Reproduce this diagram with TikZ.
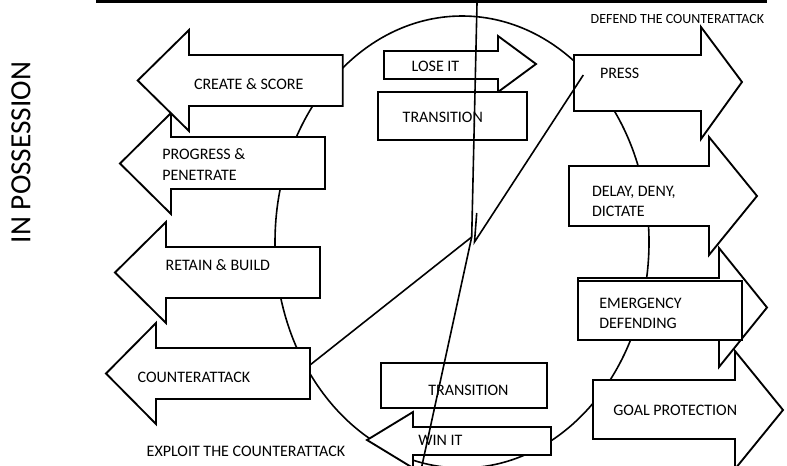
\documentclass[tikz,border=0pt]{standalone}
\usepackage{fontspec}
\setmainfont{Carlito}
\begin{document}
\begin{tikzpicture}[x=0.75pt,y=-0.75pt,
  shp/.style={draw=black, fill=white, line width=1.4pt, line join=miter, miter limit=10},
  ln/.style={draw=black, line width=1.2pt},
  lbl/.style={inner sep=0pt, outer sep=0pt, anchor=base west, font=\fontsize{12}{15.2}\selectfont, align=left},
  lbltwo/.style={lbl, anchor=north west}]
\useasboundingbox (0,0) rectangle (787,465);
\clip (0,0) rectangle (787,465);
% top rule
\coordinate (ruleL) at (96,1.65);
\coordinate (ruleR) at (767,1.65);
\draw[line width=2.5pt] (ruleL) -- (ruleR);
% big circle
\coordinate (cc) at (462,242);
\draw[ln] (cc) ellipse [x radius=140.25pt, y radius=169.5pt];
% left arrows (in possession)
\draw[shp] (310,348) -- (156,348) -- (156,323) -- (106,373.5) -- (156,424) -- (156,399) -- (310,399) -- cycle;
\draw[shp] (320,247) -- (166,247) -- (166,222) -- (115,272.5) -- (166,323) -- (166,298) -- (320,298) -- cycle;
\draw[shp] (325,137) -- (171,137) -- (171,113) -- (120,163.5) -- (171,214) -- (171,189) -- (325,189) -- cycle;
\draw[shp] (342.7,55) -- (189,55) -- (189,30) -- (137.7,80.5) -- (189,131) -- (189,106) -- (342.7,106) -- cycle;
% right arrows (defending)
\draw[shp] (593,380) -- (735,380) -- (735,351) -- (783,410) -- (735,469) -- (735,439) -- (593,439) -- cycle;
\draw[shp] (578,278) -- (719,278) -- (719,248) -- (767,307.5) -- (719,367) -- (719,337) -- (578,337) -- cycle;
\draw[shp] (578,281) rectangle (742,340);
\draw[shp] (569,166) -- (709,166) -- (709,137) -- (757,196) -- (709,255) -- (709,226) -- (569,226) -- cycle;
\draw[shp] (574,55) -- (701,55) -- (701,27) -- (742,82) -- (701,139) -- (701,111) -- (574,111) -- cycle;
% centre
\draw[shp] (384,51) -- (498,51) -- (498,36) -- (536,64) -- (498,92) -- (498,79) -- (384,79) -- cycle;
\draw[shp] (378,92) rectangle (527,140);
\draw[shp] (551,427) -- (413,427) -- (413,412) -- (367,440) -- (413,468) -- (413,455) -- (551,455) -- cycle;
\draw[shp] (381,363) rectangle (547,408);
% labels
\node[lbl] (create) at (194,89.3) {CREATE \& SCORE};
\node[lbltwo] (progress) at (162.3,149) {PROGRESS \&\\PENETRATE};
\node[lbl] (retain) at (165.7,270.7) {RETAIN \& BUILD};
\node[lbl] (counter) at (137.7,382) {COUNTERATTACK};
\node[lbl] (exploit) at (146.7,456.7) {EXPLOIT THE COUNTERATTACK};
\node[lbl, font=\fontsize{10.5}{13}\selectfont] (defend) at (590.7,23.3) {DEFEND THE COUNTERATTACK};
\node[lbl] (press) at (600,78.3) {PRESS};
\node[lbltwo] (delay) at (592,186) {DELAY, DENY,\\DICTATE};
\node[lbltwo] (emerg) at (599.3,297.7) {EMERGENCY\\DEFENDING};
\node[lbl] (goal) at (613.3,415) {GOAL PROTECTION};
\node[lbl] (lose) at (411.7,71) {LOSE IT};
\node[lbl] (transA) at (402.7,122.3) {TRANSITION};
\node[lbl] (transB) at (428.3,395) {TRANSITION};
\node[lbl] (win) at (418.3,445) {WIN IT};
\node[rotate=90, inner sep=0pt, font=\fontsize{22}{26}\selectfont] (inposs) at (21,152.5) {IN POSSESSION};
% hands
\coordinate (top) at (477,3);
\coordinate (hub) at (471.7,237);
\coordinate (bot) at (421,470);
\coordinate (cnt) at (310,365);
\coordinate (stub) at (476.7,213);
\coordinate (hubB) at (474.5,242);
\coordinate (prs) at (583.3,75);
\draw[ln] (top) -- (hub) -- (bot);
\draw[ln] (cnt) -- (hub);
\draw[ln] (stub) -- (hubB) -- (prs);
\end{tikzpicture}
\end{document}
